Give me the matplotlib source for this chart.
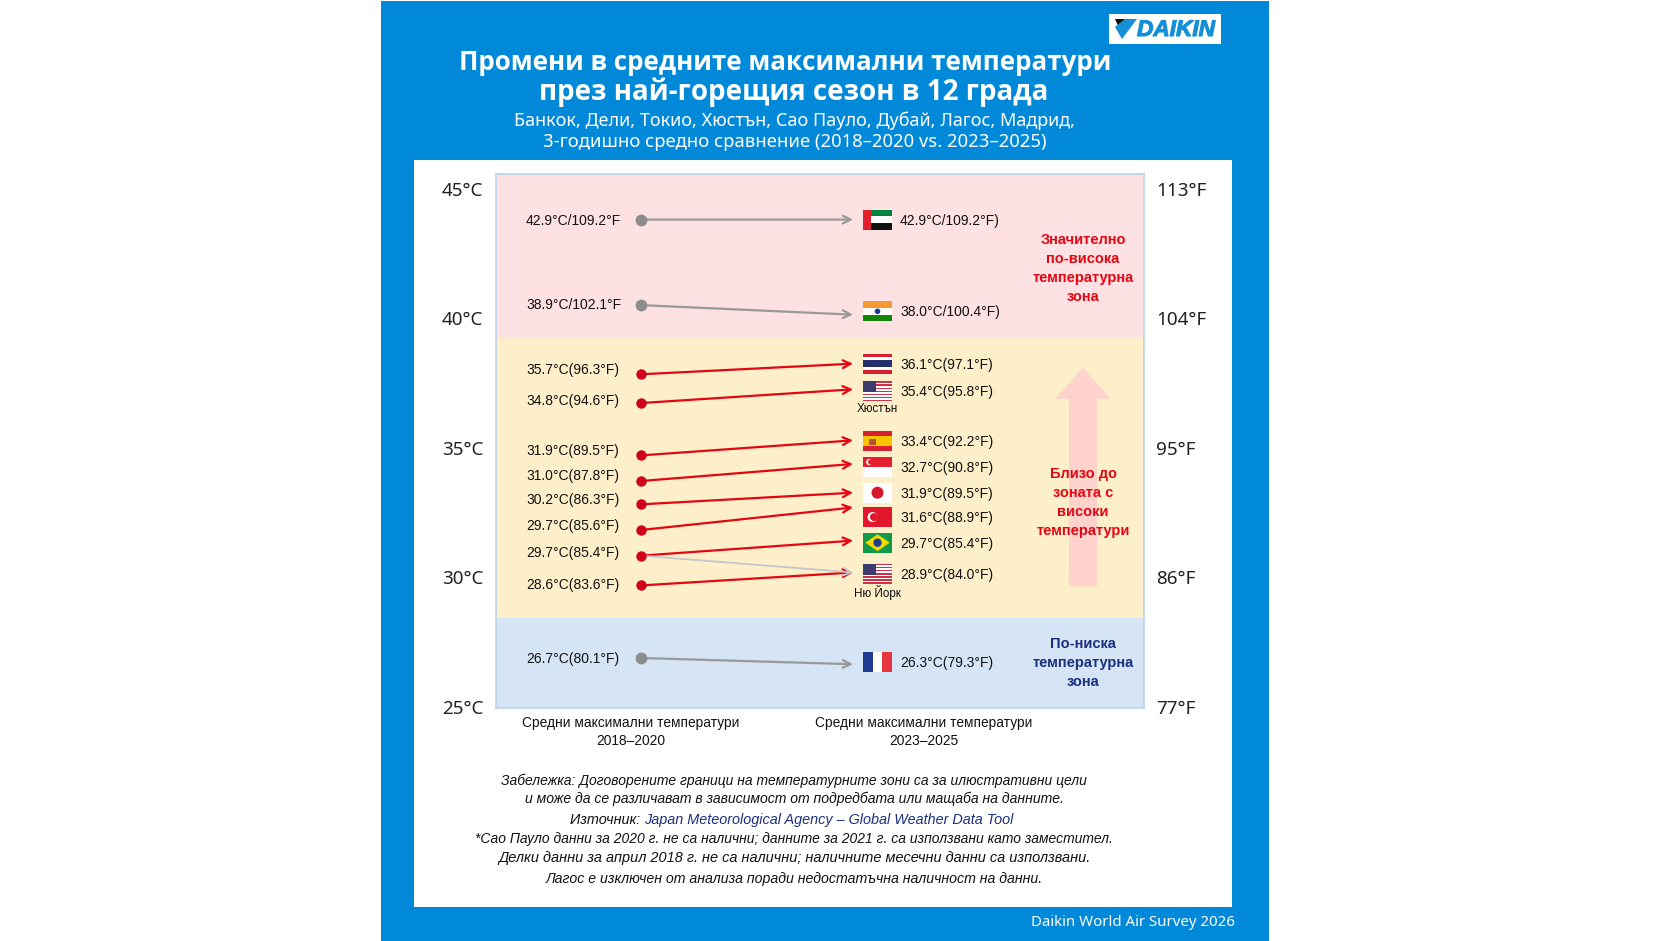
import matplotlib
matplotlib.use("Agg")
import matplotlib.pyplot as plt
import matplotlib.patheffects as pe
from matplotlib.patches import Rectangle, Ellipse, Polygon

# Data. Levels are heights on the drawn 25-45 degree scale.
codes = ["ae", "in", "th", "us", "es", "sg", "jp", "tr", "br", "us", "fr"]
start_level = [43.81, 40.51, 37.84, 36.73, 34.71, 33.72, 32.82, 31.83, 30.84, 29.69, 26.89]
end_level = [43.81, 40.14, 38.25, 37.26, 35.29, 34.38, 33.27, 32.70, 31.42, 30.19, 26.65]
flag_level = [43.81, 40.27, 38.25, 37.18, 35.25, 34.26, 33.27, 32.33, 31.34, 30.14, 26.73]
start_text = ["42.9°C/109.2°F", "38.9°C/102.1°F", "35.7°C(96.3°F)", "34.8°C(94.6°F)",
              "31.9°C(89.5°F)", "31.0°C(87.8°F)", "30.2°C(86.3°F)", "29.7°C(85.6°F)",
              "29.7°C(85.4°F)", "28.6°C(83.6°F)", "26.7°C(80.1°F)"]
end_text = ["42.9°C/109.2°F)", "38.0°C/100.4°F)", "36.1°C(97.1°F)", "35.4°C(95.8°F)",
            "33.4°C(92.2°F)", "32.7°C(90.8°F)", "31.9°C(89.5°F)", "31.6°C(88.9°F)",
            "29.7°C(85.4°F)", "28.9°C(84.0°F)", "26.3°C(79.3°F)"]
is_rising = [False, False, True, True, True, True, True, True, True, True, False]
start_label_dy = [0, 1, 5, 3, 5, 6, 5, 5, 4, 1, 0]

c_ticks = [45, 40, 35, 30, 25]
c_labels = ["45°C", "40°C", "35°C", "30°C", "25°C"]
f_labels = ["113°F", "104°F", "95°F", "86°F", "77°F"]
zone_edges = [45.57, 39.24, 28.45, 24.96]
zone_colors = ["#FEE1E3", "#FDEFC9", "#D5E5F5"]

title_lines = ["Промени в средните максимални температури", "през най-горещия сезон в 12 града"]
sub_lines = ["Банкок, Дели, Токио, Хюстън, Сао Пауло, Дубай, Лагос, Мадрид,",
             "3-годишно средно сравнение (2018–2020 vs. 2023–2025)"]
notes = ["Забележка: Договорените граници на температурните зони са за илюстративни цели",
         "и може да се различават в зависимост от подредбата или мащаба на данните.",
         None,
         "*Сао Пауло данни за 2020 г. не са налични; данните за 2021 г. са използвани като заместител.",
         "Делки данни за април 2018 г. не са налични; наличните месечни данни са използвани.",
         "Лагос е изключен от анализа поради недостатъчна наличност на данни."]
note_y = [781, 799, 820, 839, 858, 879]
note_size = [10, 10.1, 10, 10, 10.45, 10.2]

BLUE = "#0088D9"
RED = "#E30613"
GREY = "#999999"
NAVY = "#1B2F7F"
BODY = ["Liberation Sans", "DejaVu Sans"]
HEAD = ["Open Sans", "DejaVu Sans"]
LIGHT = ["Noto Sans", "DejaVu Sans"]

fig = plt.figure(figsize=(16.72, 9.41), dpi=100)

# Page furniture in pixel coordinates
bg = fig.add_axes([0, 0, 1, 1])
bg.set_xlim(0, 1672)
bg.set_ylim(941, 0)
bg.axis("off")
bg.add_patch(Rectangle((381, 1), 888, 940, color=BLUE, lw=0))
bg.add_patch(Rectangle((414, 160), 818, 747, color="white", lw=0))

# Logo
bg.add_patch(Rectangle((1109, 14), 112, 30, color="white", lw=0))
bg.add_patch(Polygon([(1115, 19), (1125, 19), (1119, 28)], color="#111111", lw=0))
bg.add_patch(Polygon([(1125, 19), (1137, 19), (1122, 39), (1115, 27)], color="#1590D8", lw=0))
logo = bg.text(1176, 29.5, "DAIKIN", color="#1590D8", fontsize=16.3, fontweight="bold", style="italic",
               family=BODY, ha="center", va="center")
logo.set_path_effects([pe.withStroke(linewidth=0.8, foreground="#1590D8")])

bg.text(785, 62, title_lines[0], color="white", fontsize=18.7, fontweight="bold", family=HEAD,
        ha="center", va="center")
bg.text(794, 92, title_lines[1], color="white", fontsize=20, fontweight="bold", family=HEAD,
        ha="center", va="center")
bg.text(794.5, 121, sub_lines[0], color="white", fontsize=13, family=LIGHT, ha="center", va="center")
bg.text(794.5, 142, sub_lines[1], color="white", fontsize=13.3, family=LIGHT, ha="center", va="center")
bg.text(1235, 922, "Daikin World Air Survey 2026", color="white", fontsize=10.8, family=LIGHT,
        ha="right", va="center")

for line, y, fs in zip(notes, note_y, note_size):
    if line:
        bg.text(794, y, line, color="#111111", fontsize=fs, style="italic", family=BODY,
                ha="center", va="center")
bg.text(644, note_y[2], "Източник: ", color="#111111", fontsize=10.4, style="italic", family=BODY,
        ha="right", va="center")
bg.text(644, note_y[2], "Japan Meteorological Agency – Global Weather Data Tool", color=NAVY,
        fontsize=10.4, style="italic", family=BODY, ha="left", va="center")

# Chart area: column 0 sits at 641 px, column 1 at 853 px
ax = fig.add_axes([496 / 1672, 1 - 708 / 941, 648 / 1672, 534 / 941])
px_x = 212.0
px_y = 25.9
ax.set_xlim(-145 / px_x, 503 / px_x)
ax.set_ylim(zone_edges[-1], zone_edges[0])
for k, col in enumerate(zone_colors):
    ax.axhspan(zone_edges[k + 1], zone_edges[k], color=col, lw=0, zorder=0)
for s in ax.spines.values():
    s.set_color("#BCD2EA")
    s.set_linewidth(1.2)

ax.set_yticks(c_ticks)
ax.set_yticklabels(c_labels, family=LIGHT, fontsize=13.6, color="#222222")
ax.tick_params(axis="y", length=0, pad=9)
ax.set_xticks([-0.05, 1.335])
ax.set_xticklabels(["Средни максимални температури\n2018–2020", "Средни максимални температури\n2023–2025"],
                   family=BODY, fontsize=9.9, color="#111111", linespacing=1.3)
ax.tick_params(axis="x", length=0, pad=6)

ax2 = ax.twinx()
ax2.set_ylim(ax.get_ylim())
ax2.set_yticks(c_ticks)
ax2.set_yticklabels(f_labels, family=LIGHT, fontsize=13.6, color="#222222")
ax2.tick_params(axis="y", length=0, pad=9)
for s in ax2.spines.values():
    s.set_visible(False)


def flag_rect(xc, yc, x0, y0, x1, y1, color):
    # x0..y1 are fractions of the flag, y measured from the top
    w, h = 29 / px_x, 20 / px_y
    ax.add_patch(Rectangle((xc - w / 2 + x0 * w, yc + h / 2 - y1 * h), (x1 - x0) * w, (y1 - y0) * h,
                           color=color, lw=0, zorder=4))


def flag_disc(xc, yc, fx, fy, d, color):
    w, h = 29 / px_x, 20 / px_y
    ax.add_patch(Ellipse((xc - w / 2 + fx * w, yc + h / 2 - fy * h), d * 20 / px_x, d * h,
                         color=color, lw=0, zorder=5))


def draw_flag(code, xc, yc):
    w, h = 29 / px_x, 20 / px_y
    if code == "ae":
        for a, b, col in [(0, 1 / 3, "#00843D"), (1 / 3, 2 / 3, "white"), (2 / 3, 1, "#111111")]:
            flag_rect(xc, yc, 0, a, 1, b, col)
        flag_rect(xc, yc, 0, 0, 0.27, 1, "#E0202C")
    elif code == "in":
        for a, b, col in [(0, 1 / 3, "#F59A33"), (1 / 3, 2 / 3, "white"), (2 / 3, 1, "#138808")]:
            flag_rect(xc, yc, 0, a, 1, b, col)
        flag_disc(xc, yc, 0.5, 0.5, 0.28, "#1C3F94")
    elif code == "th":
        for a, b, col in [(0, 1, "#D8202F"), (1 / 6, 5 / 6, "white"), (1 / 3, 2 / 3, "#24306E")]:
            flag_rect(xc, yc, 0, a, 1, b, col)
    elif code == "us":
        flag_rect(xc, yc, 0, 0, 1, 1, "white")
        for i in range(0, 13, 2):
            flag_rect(xc, yc, 0, i / 13, 1, (i + 1) / 13, "#CC3344")
        flag_rect(xc, yc, 0, 0, 0.45, 7 / 13, "#3C3B6E")
    elif code == "es":
        flag_rect(xc, yc, 0, 0, 1, 1, "#D8202F")
        flag_rect(xc, yc, 0, 0.25, 1, 0.75, "#F8C400")
        flag_rect(xc, yc, 0.22, 0.36, 0.44, 0.66, "#B5502A")
    elif code == "sg":
        flag_rect(xc, yc, 0, 0, 1, 0.5, "#E2202F")
        flag_rect(xc, yc, 0, 0.5, 1, 1, "white")
        flag_disc(xc, yc, 0.22, 0.25, 0.32, "white")
        flag_disc(xc, yc, 0.27, 0.25, 0.28, "#E2202F")
    elif code == "jp":
        flag_rect(xc, yc, 0, 0, 1, 1, "white")
        flag_disc(xc, yc, 0.5, 0.5, 0.6, "#D5172F")
    elif code == "tr":
        flag_rect(xc, yc, 0, 0, 1, 1, "#E2172B")
        flag_disc(xc, yc, 0.33, 0.5, 0.5, "white")
        flag_disc(xc, yc, 0.38, 0.5, 0.4, "#E2172B")
    elif code == "br":
        flag_rect(xc, yc, 0, 0, 1, 1, "#109A4A")
        ax.add_patch(Polygon([(xc - 0.42 * w, yc), (xc, yc + 0.42 * h), (xc + 0.42 * w, yc), (xc, yc - 0.42 * h)],
                             color="#F8D800", lw=0, zorder=5))
        flag_disc(xc, yc, 0.5, 0.5, 0.42, "#1F3E8E")
    elif code == "fr":
        flag_rect(xc, yc, 0, 0, 1 / 3, 1, "#1F3A93")
        flag_rect(xc, yc, 1 / 3, 0, 2 / 3, 1, "white")
        flag_rect(xc, yc, 2 / 3, 0, 1, 1, "#E8343F")


# Big pink arrow behind the middle zone label
ac = (1083 - 641) / px_x
atop = 45 - (345 - 177) / 24.3
ahead = 45 - (374 - 177) / 24.3
abase = 45 - (550 - 177) / 24.3
ax.add_patch(Polygon([(ac - 14 / px_x, abase), (ac - 14 / px_x, ahead), (ac - 28 / px_x, ahead), (ac, atop),
                      (ac + 28 / px_x, ahead), (ac + 14 / px_x, ahead), (ac + 14 / px_x, abase)],
                     color="#FFD2CC", lw=0, zorder=1))

flag_x = (877.5 - 641) / px_x
for i in range(len(codes)):
    col = RED if is_rising[i] else GREY
    ax.annotate("", xy=(1, end_level[i]), xytext=(0, start_level[i]),
                arrowprops=dict(arrowstyle="->", color=col, lw=1.6, mutation_scale=14,
                                shrinkA=0, shrinkB=0), zorder=3)
    ax.plot(0, start_level[i], "o", ms=7.5 if is_rising[i] else 8.5,
            color="#D0021B" if is_rising[i] else "#8C8C8C", mew=0, zorder=4)
    ax.annotate(start_text[i], xy=(0, start_level[i]), xytext=(-115, start_label_dy[i] - 1),
                textcoords="offset pixels", family=BODY, fontsize=10, color="#111111",
                ha="left", va="center")
    draw_flag(codes[i], flag_x, flag_level[i])
    ax.annotate(end_text[i], xy=(1, flag_level[i]), xytext=(47, -1), textcoords="offset pixels",
                family=BODY, fontsize=10, color="#111111", ha="left", va="center")

# Faint second line out of the Sao Paulo dot, drawn over the New York arrow
ax.annotate("", xy=(1, end_level[9]), xytext=(0, start_level[8]),
            arrowprops=dict(arrowstyle="->", color="#C4C6CC", lw=1.3, mutation_scale=14,
                            shrinkA=0, shrinkB=0), zorder=3.5)

ax.annotate("Хюстън", xy=(flag_x, flag_level[3]), xytext=(0, -18), textcoords="offset pixels",
            family=BODY, fontsize=8.4, color="#111111", ha="center", va="center")
ax.annotate("Ню Йорк", xy=(flag_x, flag_level[9]), xytext=(0, -19), textcoords="offset pixels",
            family=BODY, fontsize=8.4, color="#111111", ha="center", va="center")

zone_text = [("Значително\nпо-висока\nтемпературна\nзона", 252, RED),
             ("Близо до\nзоната с\nвисоки\nтемператури", 471, RED),
             ("По-ниска\nтемпературна\nзона", 622, NAVY)]
for txt, yy, col in zone_text:
    ax.text(ac, 45 - (yy - 177) / 24.3, txt, color=col, fontweight="bold", fontsize=10.5, family=BODY,
            ha="center", va="center", linespacing=1.46, zorder=6)

fig.savefig("out.png", dpi=100)
